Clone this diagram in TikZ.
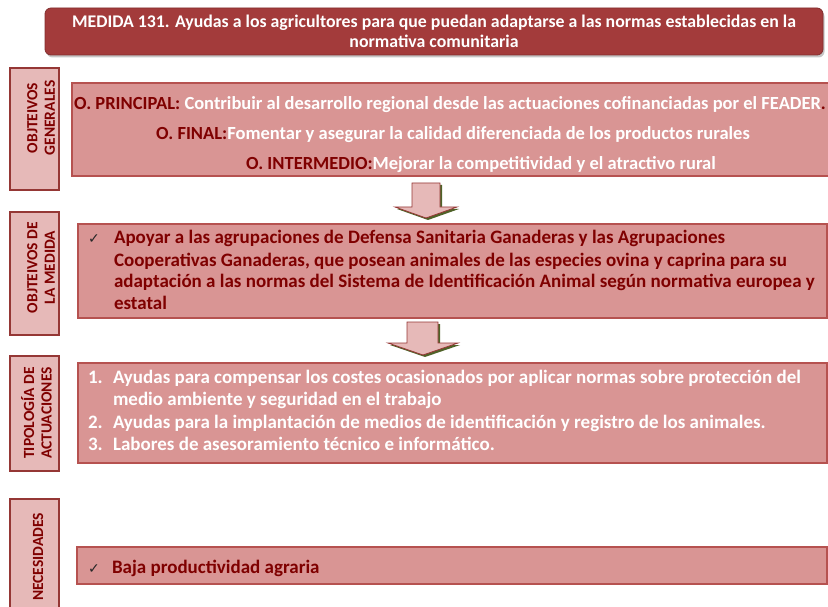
\documentclass[tikz,border=0pt]{standalone}
\usepackage{fontspec}
\setmainfont{Carlito}
\newfontfamily\symfont{DejaVu Sans}
\usetikzlibrary{shadows}
\definecolor{titlered}{HTML}{A33B3B}
\definecolor{boxfill}{HTML}{D99594}
\definecolor{boxline}{HTML}{B65250}
\definecolor{sidefill}{HTML}{E6B9B8}
\definecolor{sideline}{HTML}{953735}
\definecolor{dred}{HTML}{7F0000}
\definecolor{arrowshadow}{HTML}{4F6228}
\begin{document}
\begin{tikzpicture}[x=1pt,y=-1pt,
  every node/.style={inner sep=0pt, outer sep=0pt},
  titlebox/.style={fill=titlered, draw=titlered!80!black, line width=0.8pt, rounded corners=6pt,
     drop shadow={shadow xshift=1.5pt, shadow yshift=-2.5pt, opacity=0.45}},
  mainbox/.style={fill=boxfill, draw=boxline, line width=1.2pt},
  sidebox/.style={fill=sidefill, draw=sideline, line width=2.3pt},
  sidetxt/.style={rotate=90, align=center, text=dred, font=\bfseries\fontsize{15.5}{17.5}\selectfont},
  titletxt/.style={anchor=base, text=white, font=\bfseries\fontsize{17.8}{20}\selectfont},
  bodytxt/.style={anchor=base west, font=\bfseries\fontsize{19}{22}\selectfont},
  ctrtxt/.style={anchor=base, font=\bfseries\fontsize{18.5}{22}\selectfont},
  checkmk/.style={anchor=base west, font=\symfont\fontsize{14}{16}\selectfont, text=black!85},
  blockarrow/.style={fill=sidefill, draw=sideline, line width=0.8pt},
  arrowshade/.style={fill=arrowshadow, draw=none}
]
\useasboundingbox (0,0) rectangle (828,607);

% title
\node[titlebox, anchor=north west, minimum width=778pt, minimum height=47pt] (title) at (45,8) {};
\node[titletxt] (t1) at (434,28) {MEDIDA 131. Ayudas a los agricultores para que puedan adaptarse a las normas establecidas en la};
\node[titletxt] (t2) at (434,48) {normativa comunitaria};

% side labels
\node[sidebox, anchor=north west, minimum width=49pt, minimum height=122pt] (s1) at (10,68) {};
\node[sidetxt] (s1t) at (41,118) {OBJTEIVOS\\GENERALES};
\node[sidebox, anchor=north west, minimum width=49pt, minimum height=123pt] (s2) at (10,212) {};
\node[sidetxt] (s2t) at (41,267.5) {OBJTEIVOS DE\\LA MEDIDA};
\node[sidebox, anchor=north west, minimum width=49pt, minimum height=115pt] (s3) at (10,356) {};
\node[sidetxt] (s3t) at (36.5,413) {TIPOLOGÍA DE\\ACTUACIONES};
\node[sidebox, anchor=north west, minimum width=49pt, minimum height=120pt] (s4) at (10,499) {};
\node[sidetxt] (s4t) at (38,557) {NECESIDADES};

% main boxes
\node[mainbox, anchor=north west, minimum width=758pt, minimum height=93pt] (b1) at (72,83) {};
\node[mainbox, anchor=north west, minimum width=749pt, minimum height=94pt] (b2) at (78,224) {};
\node[mainbox, anchor=north west, minimum width=749pt, minimum height=100pt] (b3) at (78,363) {};
\node[mainbox, anchor=north west, minimum width=750pt, minimum height=37pt] (b4) at (77,547) {};

% box 1 text
\node[ctrtxt] (g1) at (450,110) {\textcolor{dred}{O. PRINCIPAL:} \textcolor{white}{Contribuir al desarrollo regional desde las actuaciones cofinanciadas por el FEADER}\textcolor{dred}{.}};
\node[ctrtxt] (g2) at (453,140) {\textcolor{dred}{O. FINAL:}\textcolor{white}{Fomentar y asegurar la calidad diferenciada de los productos rurales}};
\node[ctrtxt] (g3) at (481,170) {\textcolor{dred}{O. INTERMEDIO:}\textcolor{white}{Mejorar la competitividad y el atractivo rural}};

% arrows
\path[arrowshade] (414,185) -- (442,185) -- (442,209) -- (459,209) -- (428,220) -- (397,209) -- (414,209) -- cycle;
\path[blockarrow] (412,183) -- (440,183) -- (440,207) -- (457,207) -- (426,218) -- (395,207) -- (412,207) -- cycle;
\path[arrowshade] (409,324) -- (440,324) -- (440,345) -- (460,345) -- (425,357) -- (390,345) -- (409,345) -- cycle;
\path[blockarrow] (407,322) -- (438,322) -- (438,343) -- (458,343) -- (423,355) -- (388,343) -- (407,343) -- cycle;

% box 2 text
\node[checkmk] (c2) at (88,243.5) {✓};
\begin{scope}[every node/.append style={text=dred}]
\node[bodytxt] (m1) at (114,243.5) {Apoyar a las agrupaciones de Defensa Sanitaria Ganaderas y las Agrupaciones};
\node[bodytxt] (m2) at (114,266) {Cooperativas Ganaderas, que posean animales de las especies ovina y caprina para su};
\node[bodytxt] (m3) at (114,287.5) {adaptación a las normas del Sistema de Identificación Animal según normativa europea y};
\node[bodytxt] (m4) at (114,309) {estatal};
\end{scope}

% box 3 text
\begin{scope}[every node/.append style={text=white}]
\node[bodytxt] (n1) at (88,383) {1.};
\node[bodytxt] (a1) at (113,383) {Ayudas para compensar los costes ocasionados por aplicar normas sobre protección del};
\node[bodytxt] (a1b) at (113,405.5) {medio ambiente y seguridad en el trabajo};
\node[bodytxt] (n2) at (88,428) {2.};
\node[bodytxt] (a2) at (113,428) {Ayudas para la implantación de medios de identificación y registro de los animales.};
\node[bodytxt] (n3) at (88,450) {3.};
\node[bodytxt] (a3) at (113,450) {Labores de asesoramiento técnico e informático.};
\end{scope}

% box 4 text
\node[checkmk] (c4) at (88,573) {✓};
\node[bodytxt, text=dred] (nd) at (112,573) {Baja productividad agraria};
\end{tikzpicture}
\end{document}
